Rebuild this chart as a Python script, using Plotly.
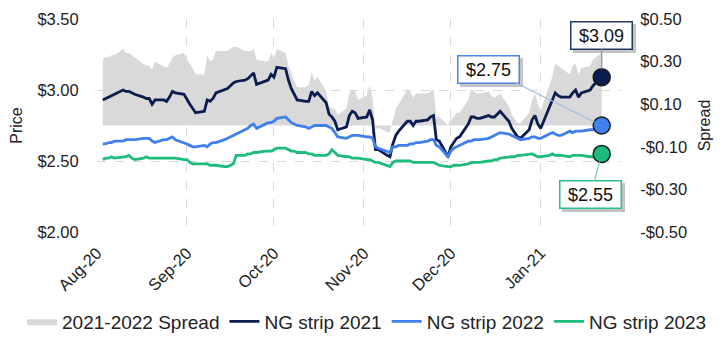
import numpy as np
import pandas as pd
import plotly.graph_objects as go

# Trading days, Aug 3 2020 through Jan 22 2021
dates = pd.bdate_range("2020-08-03", "2021-01-22")

# NG strip prices ($/MMBtu), month by month
ng2021 = (
    [2.93, 2.94, 2.95, 2.96, 2.97, 3.00, 2.99, 2.99, 2.98, 2.97, 2.95, 2.94, 2.94, 2.90, 2.93, 2.93, 2.92, 2.95, 2.99, 2.98, 2.97]
    + [2.93, 2.90, 2.87, 2.84, 2.85, 2.93, 2.92, 2.94, 2.98, 3.00, 3.01, 3.03, 3.05, 3.06, 3.07, 3.08, 3.10, 3.12, 3.04, 3.06, 3.07, 3.11]
    + [3.09, 3.16, 3.15, 3.07, 3.01, 2.97, 2.93, 2.92, 2.92, 2.99, 2.96, 2.98, 2.91, 2.83, 2.81, 2.78, 2.72, 2.74, 2.82, 2.85, 2.84, 2.80]
    + [2.81, 2.86, 2.79, 2.58, 2.58, 2.54, 2.53, 2.62, 2.68, 2.71, 2.78, 2.78, 2.75, 2.78, 2.78, 2.79, 2.81, 2.82, 2.65, 2.64, 2.53]
    + [2.60, 2.63, 2.66, 2.67, 2.76, 2.81, 2.81, 2.80, 2.80, 2.82, 2.81, 2.81, 2.83, 2.85, 2.78, 2.73, 2.70, 2.67, 2.66, 2.72, 2.79, 2.82, 2.76]
    + [2.73, 2.88, 2.93, 2.98, 2.96, 2.95, 2.95, 2.98, 3.00, 2.95, 2.98, 3.00, 3.03, 3.05, 3.07, 3.09]
)
ng2022 = (
    [2.62, 2.62, 2.63, 2.63, 2.64, 2.64, 2.65, 2.65, 2.65, 2.65, 2.66, 2.66, 2.66, 2.64, 2.63, 2.65, 2.65, 2.66, 2.67, 2.65, 2.63]
    + [2.62, 2.61, 2.60, 2.60, 2.61, 2.60, 2.62, 2.63, 2.63, 2.65, 2.66, 2.67, 2.68, 2.69, 2.72, 2.73, 2.75, 2.76, 2.73, 2.76, 2.77, 2.77]
    + [2.78, 2.80, 2.81, 2.79, 2.77, 2.76, 2.75, 2.74, 2.73, 2.74, 2.75, 2.75, 2.75, 2.74, 2.73, 2.70, 2.67, 2.66, 2.67, 2.68, 2.68, 2.68]
    + [2.67, 2.67, 2.66, 2.60, 2.59, 2.57, 2.56, 2.60, 2.60, 2.61, 2.61, 2.62, 2.62, 2.63, 2.63, 2.64, 2.65, 2.65, 2.61, 2.60, 2.53]
    + [2.57, 2.59, 2.60, 2.61, 2.64, 2.64, 2.65, 2.65, 2.65, 2.66, 2.67, 2.68, 2.69, 2.70, 2.69, 2.68, 2.67, 2.66, 2.65, 2.66, 2.67, 2.67, 2.66]
    + [2.66, 2.69, 2.70, 2.69, 2.68, 2.68, 2.71, 2.70, 2.71, 2.71, 2.71, 2.72, 2.72, 2.73, 2.74, 2.75]
)
ng2023 = (
    [2.51, 2.52, 2.52, 2.53, 2.52, 2.53, 2.53, 2.54, 2.52, 2.51, 2.52, 2.53, 2.52, 2.52, 2.52, 2.52, 2.52, 2.52, 2.52, 2.52, 2.51]
    + [2.51, 2.49, 2.48, 2.48, 2.48, 2.48, 2.47, 2.47, 2.47, 2.46, 2.46, 2.47, 2.48, 2.54, 2.54, 2.55, 2.55, 2.56, 2.56, 2.57, 2.57, 2.57]
    + [2.58, 2.59, 2.59, 2.58, 2.57, 2.57, 2.56, 2.56, 2.55, 2.55, 2.54, 2.54, 2.54, 2.55, 2.58, 2.56, 2.54, 2.53, 2.53, 2.52, 2.52, 2.52]
    + [2.51, 2.51, 2.50, 2.49, 2.49, 2.47, 2.46, 2.49, 2.50, 2.50, 2.50, 2.50, 2.49, 2.49, 2.49, 2.49, 2.49, 2.49, 2.48, 2.47, 2.46]
    + [2.46, 2.47, 2.47, 2.47, 2.48, 2.49, 2.49, 2.49, 2.49, 2.50, 2.50, 2.51, 2.51, 2.52, 2.53, 2.53, 2.53, 2.54, 2.54, 2.55, 2.55, 2.54, 2.53]
    + [2.53, 2.54, 2.55, 2.54, 2.54, 2.54, 2.53, 2.54, 2.54, 2.54, 2.54, 2.53, 2.53, 2.54, 2.55, 2.55]
)
assert len(ng2021) == len(ng2022) == len(ng2023) == len(dates)

# 2021-2022 calendar spread
spread = np.round(np.array(ng2021) - np.array(ng2022), 2)

price_ticks = [2.0, 2.5, 3.0, 3.5]
spread_ticks = [-0.5, -0.3, -0.1, 0.1, 0.3, 0.5]
month_ticks = ["2020-08-01", "2020-09-01", "2020-10-01", "2020-11-01", "2020-12-01", "2021-01-01"]


def money(v):
    return ("-$" if v < 0 else "$") + f"{abs(v):.2f}"


NAVY = "#0b1d4f"
BLUE = "#3f80ee"
GREEN = "#1dbb7c"
GRAY = "#d9d9d9"
FONT = "Arial, Liberation Sans, sans-serif"

W, H = 727, 338
ML, MR = 10, 10                     # thin outer margins so the legend can span the page
PLOT_L, PLOT_R = 97, 622            # plot area edges in pixels
dom = [(PLOT_L - ML) / (W - ML - MR), (PLOT_R - ML) / (W - ML - MR)]

fig = go.Figure()

# spread area on the primary (right-hand) axis so it sits beneath the price lines
fig.add_trace(go.Scatter(
    x=dates, y=spread, name="2021-2022 Spread", yaxis="y",
    mode="lines", line=dict(width=0, color=GRAY), fill="tozeroy", fillcolor=GRAY,
))

series = [("NG strip 2021", ng2021, NAVY), ("NG strip 2022", ng2022, BLUE), ("NG strip 2023", ng2023, GREEN)]
for name, vals, col in series:
    fig.add_trace(go.Scatter(
        x=dates, y=vals, name=name, yaxis="y2", mode="lines",
        line=dict(color=col, width=2.8),
    ))
for name, vals, col in series:
    fig.add_trace(go.Scatter(
        x=[dates[-1]], y=[vals[-1]], yaxis="y2", mode="markers", showlegend=False,
        marker=dict(size=17, color=col, line=dict(color="#1a1a1a", width=1.5)),
    ))

# value call-outs: (series, box offset x, box offset y, border, connector)
callouts = [
    (ng2021, 0, -42, "#1f3864", "#8391a8"),
    (ng2022, -113, -56, "#4a86e8", "#9dbbef"),
    (ng2023, -11, 41, "#2bbf8a", "#6fd0aa"),
]
for vals, ax, ay, border, conn in callouts:
    common = dict(
        x=dates[-1], y=vals[-1], xref="x", yref="y2", ax=ax, ay=ay,
        axref="pixel", ayref="pixel", width=56, height=22,
        font=dict(family=FONT, size=18), borderpad=2, borderwidth=1.5, arrowhead=0,
        showarrow=True,
    )
    # drop shadow behind the box
    fig.add_annotation(**common, text="&nbsp;", arrowcolor="rgba(0,0,0,0)",
                       xshift=3, yshift=-3, bgcolor="#c4c4c4", bordercolor="#c4c4c4")
    fig.add_annotation(**common, text=money(vals[-1]), arrowcolor=conn, arrowwidth=1.2,
                       standoff=8, bgcolor="white", bordercolor=border, font_color="#111111")

fig.update_layout(
    width=W, height=H,
    margin=dict(l=ML, r=MR, t=19, b=106, autoexpand=False),
    paper_bgcolor="white", plot_bgcolor="white",
    font=dict(family=FONT, size=16, color="#222222"),
    xaxis=dict(
        type="date", range=["2020-08-01", "2021-01-29"], domain=dom, automargin=False,
        tickvals=month_ticks, tickformat="%b-%y", tickangle=-45,
        showgrid=True, gridcolor=GRAY, griddash="dash", gridwidth=1,
        zeroline=False, showline=False,
        ticks="outside", ticklen=4, tickcolor="rgba(0,0,0,0)",
        tickfont=dict(size=16.5),
    ),
    yaxis=dict(
        side="right", range=[-0.5, 0.5], tickvals=spread_ticks, automargin=False,
        ticktext=[money(v) for v in spread_ticks], tickfont=dict(size=16.5),
        showgrid=False, zeroline=False,
        ticks="outside", ticklen=14, tickcolor="rgba(0,0,0,0)",
        title=dict(text="Spread", standoff=12, font=dict(size=16)),
    ),
    yaxis2=dict(
        overlaying="y", side="left", range=[2.0, 3.5], tickvals=price_ticks, automargin=False,
        ticktext=[money(v) for v in price_ticks], tickfont=dict(size=16.5),
        showgrid=True, gridcolor=GRAY, griddash="dash", zeroline=False,
        ticks="outside", ticklen=14, tickcolor="rgba(0,0,0,0)",
        title=dict(text="Price", standoff=10, font=dict(size=16)),
    ),
    legend=dict(
        orientation="h", x=0.505, xanchor="center", y=-0.42, yanchor="middle",
        font=dict(size=19), itemwidth=30, tracegroupgap=0,
    ),
    showlegend=True,
)

fig.write_html("out.html")
